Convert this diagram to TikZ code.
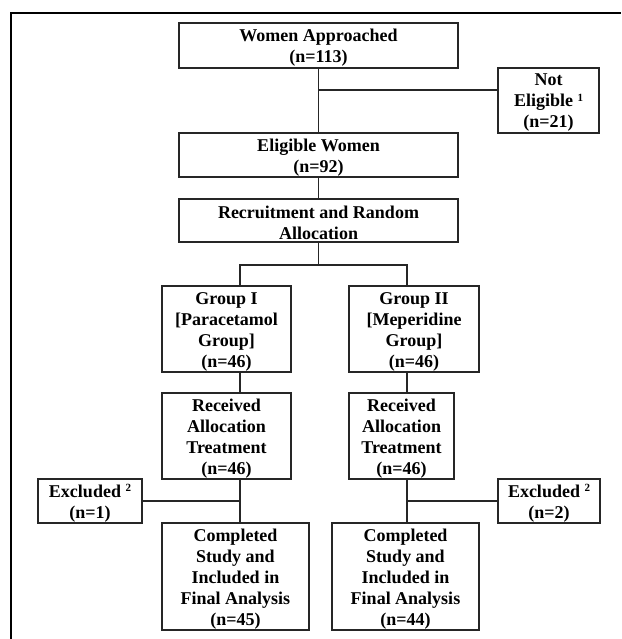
\documentclass[tikz,border=0pt]{standalone}
\usepackage{fontspec}
\setmainfont{Liberation Serif}
\begin{document}
\begin{tikzpicture}[x=1pt,y=-1pt,
  box/.style={draw=black!85, line width=1.5pt, inner sep=0pt},
  lbl/.style={align=center, inner sep=0pt, yshift=-2.5pt,
    font=\fontsize{18}{21}\selectfont\bfseries},
  conn/.style={draw=black!85, line width=1.5pt}]
\useasboundingbox (0,0) rectangle (621,639);
\newcommand{\supnum}[1]{\raisebox{5.5pt}{\fontsize{11}{11}\selectfont #1}}
% partial outer frame
\draw[line width=1.8pt] (11,639) -- (11,13) -- (621,13);
% boxes
\node[box, minimum width=279pt, minimum height=45pt, label={[lbl]center:{Women Approached\\(n=113)}}] (wa) at (318.5,45.5) {};
\node[box, minimum width=101pt, minimum height=65pt, label={[lbl]center:{Not\\Eligible \supnum{1}\\(n=21)}}] (ne) at (548.5,100.5) {};
\node[box, minimum width=279pt, minimum height=44pt, label={[lbl]center:{Eligible Women\\(n=92)}}] (ew) at (318.5,155) {};
\node[box, minimum width=279pt, minimum height=43pt, label={[lbl]center:{Recruitment and Random\\Allocation}}] (ra) at (318.5,220.5) {};
\node[box, minimum width=129pt, minimum height=86pt, label={[lbl]center:{Group I\\{}[Paracetamol\\Group]\\(n=46)}}] (g1) at (226.5,329) {};
\node[box, minimum width=130pt, minimum height=86pt, label={[lbl]center:{Group II\\{}[Meperidine\\Group]\\(n=46)}}] (g2) at (414,329) {};
\node[box, minimum width=129pt, minimum height=86pt, label={[lbl]center:{Received\\Allocation\\Treatment\\(n=46)}}] (r1) at (226.5,436) {};
\node[box, minimum width=105pt, minimum height=86pt, label={[lbl]center:{Received\\Allocation\\Treatment\\(n=46)}}] (r2) at (401.5,436) {};
\node[box, minimum width=104pt, minimum height=44pt, label={[lbl]center:{Excluded \supnum{2}\\(n=1)}}] (x1) at (90,501) {};
\node[box, minimum width=102pt, minimum height=44pt, label={[lbl]center:{Excluded \supnum{2}\\(n=2)}}] (x2) at (549,501) {};
\node[box, minimum width=147pt, minimum height=107pt, label={[lbl]center:{Completed\\Study and\\Included in\\Final Analysis\\(n=45)}}] (c1) at (235.5,576.5) {};
\node[box, minimum width=147pt, minimum height=107pt, label={[lbl]center:{Completed\\Study and\\Included in\\Final Analysis\\(n=44)}}] (c2) at (405.5,576.5) {};
% connectors
\coordinate (b1) at (318.5,90);
\draw[conn] (wa.south) -- (ew.north);
\draw[conn] (b1) -- (ne.west |- b1);
\draw[conn] (ew.south) -- (ra.north);
\coordinate (s) at (318.5,265);
\draw[conn] (ra.south) -- (s);
\draw[conn] ([xshift=13.5]g1.north) |- (s) -| ([xshift=-7]g2.north);
\draw[conn] ([xshift=13.5]g1.south) -- ([xshift=13.5]r1.north);
\draw[conn] ([xshift=-7]g2.south) -- ([xshift=5.5]r2.north);
\draw[conn] ([xshift=13.5]r1.south) -- ([xshift=4.5]c1.north);
\draw[conn] ([xshift=5.5]r2.south) -- ([xshift=1.5]c2.north);
\coordinate (e1) at (240,501);
\coordinate (e2) at (407,501);
\draw[conn] (x1.east) -- (e1);
\draw[conn] (e2) -- (x2.west);
\end{tikzpicture}
\end{document}
